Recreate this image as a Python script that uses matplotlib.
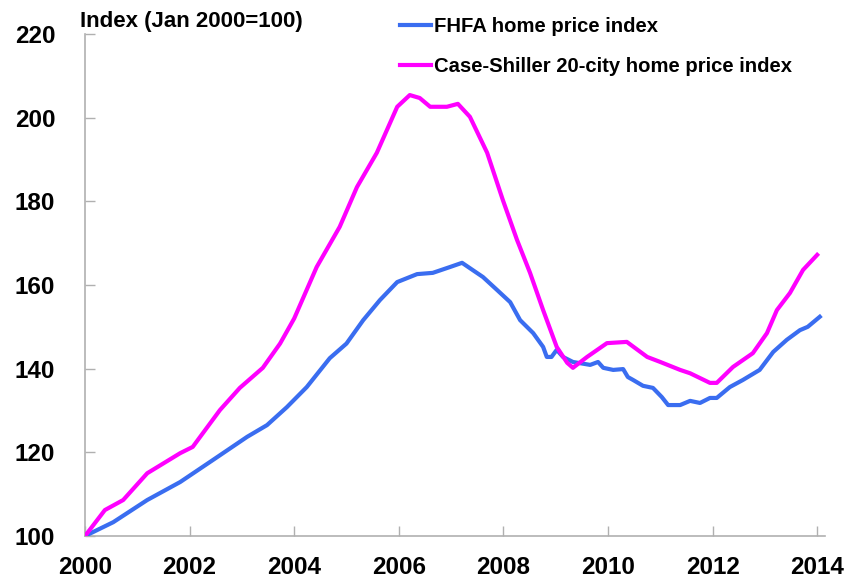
import matplotlib
matplotlib.use("Agg")
import matplotlib.pyplot as plt

plt.rcParams['font.family'] = ['Liberation Sans', 'DejaVu Sans']

# FHFA home price index (Jan 2000 = 100)
fhfa_year = [2000.0, 2000.54, 2001.19, 2001.82, 2002.45, 2003.1, 2003.48, 2003.86, 2004.24,
             2004.68, 2005.0, 2005.32, 2005.64, 2005.97, 2006.35, 2006.65, 2006.98, 2007.21,
             2007.61, 2007.88, 2008.13, 2008.32, 2008.57, 2008.76, 2008.83, 2008.92, 2009.02,
             2009.14, 2009.33, 2009.66, 2009.81, 2009.91, 2010.1, 2010.29, 2010.38, 2010.48,
             2010.67, 2010.86, 2011.03, 2011.15, 2011.38, 2011.57, 2011.76, 2011.95, 2012.08,
             2012.33, 2012.58, 2012.9, 2013.16, 2013.42, 2013.67, 2013.82, 2014.05]
fhfa_val = [100.0, 103.3, 108.6, 112.9, 118.2, 123.7, 126.5, 130.8, 135.6,
            142.5, 146.0, 151.6, 156.4, 160.7, 162.6, 162.9, 164.3, 165.3,
            161.9, 158.8, 155.9, 151.6, 148.5, 145.2, 142.8, 142.8, 144.5,
            142.8, 141.6, 140.9, 141.6, 140.2, 139.7, 139.9, 138.0, 137.3,
            135.9, 135.4, 133.2, 131.3, 131.3, 132.3, 131.8, 133.0, 133.0,
            135.6, 137.3, 139.7, 144.0, 146.9, 149.2, 150.0, 152.4]

# Case-Shiller 20-city home price index (Jan 2000 = 100)
cs_year = [2000.0, 2000.38, 2000.73, 2001.19, 2001.82, 2002.06, 2002.58, 2002.96, 2003.4,
           2003.73, 2004.0, 2004.43, 2004.87, 2005.2, 2005.58, 2005.97, 2006.21, 2006.4,
           2006.6, 2006.92, 2007.13, 2007.36, 2007.69, 2007.99, 2008.26, 2008.51, 2008.76,
           2009.02, 2009.22, 2009.33, 2009.6, 2009.98, 2010.36, 2010.75, 2011.0, 2011.38,
           2011.57, 2011.95, 2012.08, 2012.39, 2012.77, 2013.04, 2013.23, 2013.48, 2013.73,
           2014.0]
cs_val = [100.0, 106.2, 108.6, 115.0, 119.8, 121.3, 130.1, 135.4, 140.2,
          146.0, 152.0, 164.3, 173.9, 183.4, 191.6, 202.6, 205.4, 204.7,
          202.6, 202.6, 203.3, 200.2, 191.6, 180.3, 170.8, 162.9, 154.0,
          145.2, 141.4, 140.2, 142.8, 146.1, 146.4, 142.8, 141.6, 139.7,
          138.9, 136.6, 136.6, 140.4, 143.7, 148.5, 154.0, 158.1, 163.6,
          167.2]

x_ticks = [2000, 2002, 2004, 2006, 2008, 2010, 2012, 2014]
y_ticks = [100, 120, 140, 160, 180, 200, 220]

fig = plt.figure(figsize=(8.5, 5.84), dpi=100)
ax = fig.add_axes([0.1, 0.0822, 0.8706, 0.8596])

ax.plot(fhfa_year, fhfa_val, color='#3A6DF0', lw=3.0, solid_joinstyle='round',
        label='FHFA home price index', zorder=3)
ax.plot(cs_year, cs_val, color='#FF00FF', lw=3.0, solid_joinstyle='round',
        label='Case-Shiller 20-city home price index', zorder=3)

ax.set_xlim(2000, 2014.15)
ax.set_ylim(100, 220)
ax.set_xticks(x_ticks)
ax.set_yticks(y_ticks)
ax.set_xticklabels([str(t) for t in x_ticks], fontsize=17.5, fontweight='bold')
ax.set_yticklabels([str(t) for t in y_ticks], fontsize=17.5, fontweight='bold')
ax.tick_params(axis='both', direction='in', length=7, width=1, color='#b0b0b0')
ax.tick_params(axis='y', pad=21.5)
ax.tick_params(axis='x', pad=14.5)

for s in ['top', 'right']:
    ax.spines[s].set_visible(False)
for s in ['left', 'bottom']:
    ax.spines[s].set_color('#b0b0b0')
    ax.spines[s].set_linewidth(1.2)

fig.text(80 / 850, 1 - 22 / 584, 'Index (Jan 2000=100)', fontsize=16, fontweight='bold',
         ha='left', va='center')

leg = fig.legend(loc='upper left', bbox_to_anchor=(392 / 850, 1 - 9 / 584),
                 frameon=False, fontsize=14.6, handlelength=1.5, handletextpad=0.15,
                 labelspacing=1.05, borderaxespad=0)
for t in leg.get_texts():
    t.set_fontweight('bold')

fig.savefig('out.png', dpi=100)
